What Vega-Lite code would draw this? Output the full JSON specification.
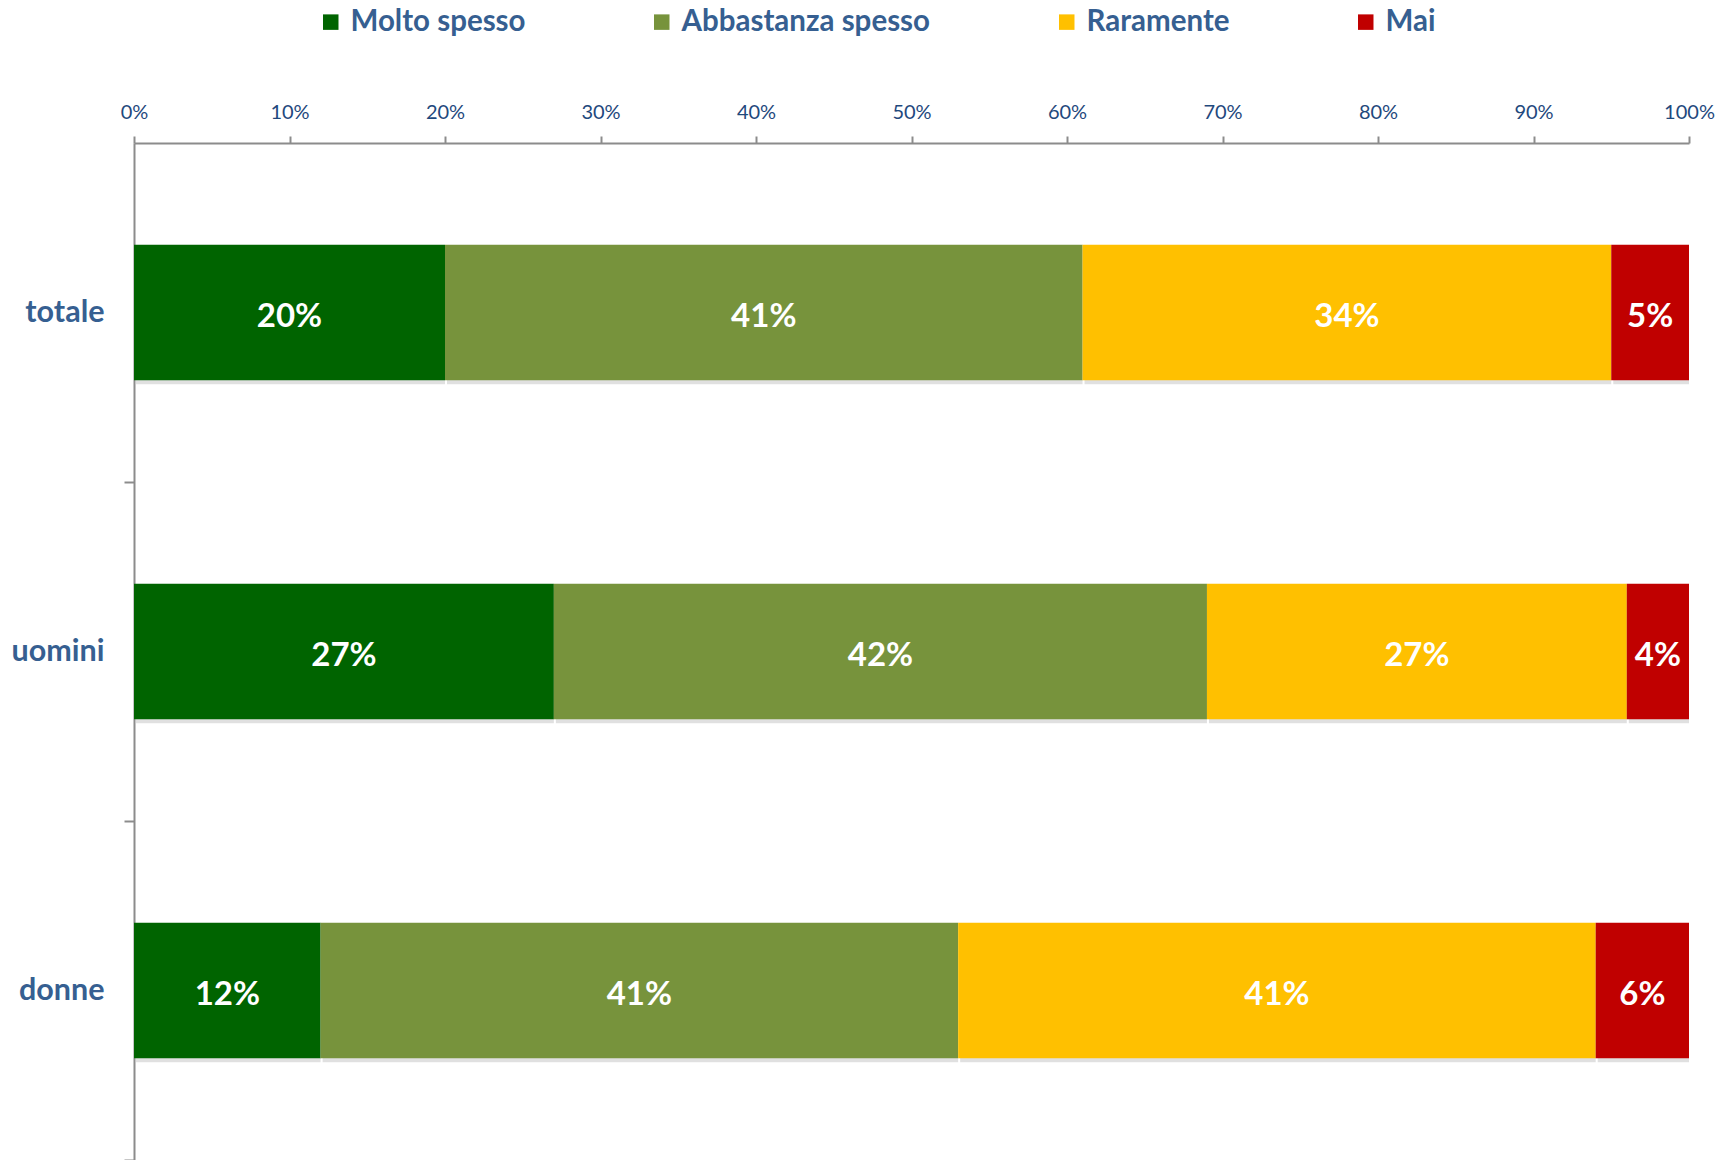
{
  "$schema": "https://vega.github.io/schema/vega-lite/v6.json",
  "width": 1555,
  "height": 1017,
  "autosize": {"type": "none"},
  "padding": {"left": 134, "top": 143, "right": 42, "bottom": 0},
  "background": "white",
  "config": {"view": {"stroke": null}, "font": "Lato"},
  "data": {
    "values": [
      {"gruppo": "totale", "cat": "Molto spesso", "ord": 1, "val": 0.20},
      {"gruppo": "totale", "cat": "Abbastanza spesso", "ord": 2, "val": 0.41},
      {"gruppo": "totale", "cat": "Raramente", "ord": 3, "val": 0.34},
      {"gruppo": "totale", "cat": "Mai", "ord": 4, "val": 0.05},
      {"gruppo": "uomini", "cat": "Molto spesso", "ord": 1, "val": 0.27},
      {"gruppo": "uomini", "cat": "Abbastanza spesso", "ord": 2, "val": 0.42},
      {"gruppo": "uomini", "cat": "Raramente", "ord": 3, "val": 0.27},
      {"gruppo": "uomini", "cat": "Mai", "ord": 4, "val": 0.04},
      {"gruppo": "donne", "cat": "Molto spesso", "ord": 1, "val": 0.12},
      {"gruppo": "donne", "cat": "Abbastanza spesso", "ord": 2, "val": 0.41},
      {"gruppo": "donne", "cat": "Raramente", "ord": 3, "val": 0.41},
      {"gruppo": "donne", "cat": "Mai", "ord": 4, "val": 0.06}
    ]
  },
  "transform": [
    {"stack": "val", "groupby": ["gruppo"], "sort": [{"field": "ord", "order": "ascending"}], "as": ["x0", "x1"]},
    {"calculate": "(datum.x0 + datum.x1) / 2", "as": "xm"}
  ],
  "encoding": {
    "y": {
      "field": "gruppo",
      "type": "nominal",
      "sort": ["totale", "uomini", "donne"],
      "title": null,
      "scale": {"paddingInner": 0.6, "paddingOuter": 0.3},
      "axis": {
        "orient": "left",
        "domainColor": "#8c8c8c",
        "domainWidth": 2,
        "tickColor": "#8c8c8c",
        "tickWidth": 2,
        "tickSize": 10,
        "tickOffset": 169.5,
        "labelOffset": -169.5,
        "labelFont": "Lato",
        "labelFontWeight": "bold",
        "labelFontSize": 30.5,
        "labelColor": "#365F91",
        "labelPadding": 20
      }
    }
  },
  "layer": [
    {
      "mark": {"type": "bar", "color": "#000000", "opacity": 0.12, "yOffset": 4, "xOffset": 2},
      "encoding": {
        "x": {"field": "x0", "type": "quantitative"},
        "x2": {"field": "x1"}
      }
    },
    {
      "mark": {"type": "bar"},
      "encoding": {
        "x": {
          "field": "x0",
          "type": "quantitative",
          "title": null,
          "scale": {"domain": [0, 1], "nice": false},
          "axis": {
            "orient": "top",
            "format": ".0%",
            "values": [0, 0.1, 0.2, 0.3, 0.4, 0.5, 0.6, 0.7, 0.8, 0.9, 1],
            "grid": false,
            "domainColor": "#8c8c8c",
            "domainWidth": 2,
            "tickColor": "#8c8c8c",
            "tickWidth": 2,
            "tickSize": 7,
            "labelFont": "Lato",
            "labelFontSize": 20,
            "labelColor": "#1F497D",
            "labelPadding": 14,
            "labelFlush": false
          }
        },
        "x2": {"field": "x1"},
        "color": {
          "field": "cat",
          "type": "nominal",
          "title": null,
          "scale": {
            "domain": ["Molto spesso", "Abbastanza spesso", "Raramente", "Mai"],
            "range": ["#006400", "#77933C", "#FFC000", "#C00000"]
          },
          "legend": {
            "orient": "none",
            "legendX": 182,
            "legendY": -136,
            "direction": "horizontal",
            "columns": 4,
            "padding": 0,
            "columnPadding": 121,
            "symbolType": "square",
            "symbolSize": 240,
            "symbolStrokeWidth": 0,
            "symbolOpacity": 1,
            "labelFont": "Lato",
            "labelFontWeight": "bold",
            "labelFontSize": 29.5,
            "labelColor": "#365F91",
            "labelOffset": 5,
            "labelLimit": 400
          }
        }
      }
    },
    {
      "mark": {"type": "text", "color": "white", "font": "Lato", "fontWeight": "bold", "fontSize": 33, "baseline": "middle", "align": "center", "dy": 4},
      "encoding": {
        "x": {"field": "xm", "type": "quantitative"},
        "text": {"field": "val", "type": "quantitative", "format": ".0%"}
      }
    }
  ]
}
